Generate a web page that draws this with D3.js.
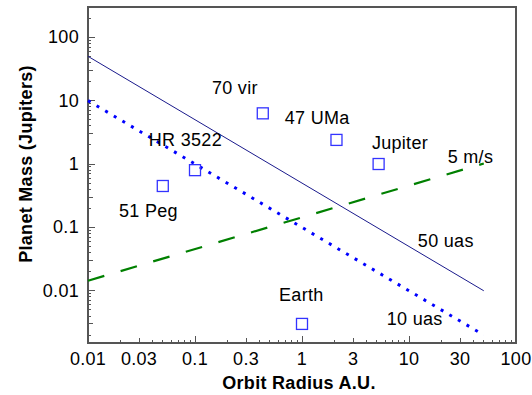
<!DOCTYPE html>
<html><head><meta charset="utf-8">
<script src="https://cdn.jsdelivr.net/npm/d3@7"></script>
<style>
body{margin:0;background:#fff;}
text{font-family:"Liberation Sans",Arial,sans-serif;}
</style></head>
<body><svg id="c" width="532" height="395"></svg>
<script>
// ---- data ----
const planetNames = ["51 Peg","HR 3522","70 vir","47 UMa","Jupiter","Earth"];
const planetRadius = [0.05, 0.1, 0.43, 2.1, 5.2, 1.0];
const planetMass   = [0.45, 0.8, 6.3, 2.4, 1.0, 0.003];

const line50uas = [[0.01, 50], [50, 0.01]];
const line10uas = [[0.01, 10], [50, 0.002]];
const line5ms   = [[0.01, 0.0144], [50, 1.02]];

const labelTexts  = ["70 vir","47 UMa","Jupiter","5 m/s","HR 3522","51 Peg","50 uas","Earth","10 uas"];
const labelRadius = [0.144, 0.69, 4.5, 23, 0.037, 0.0195, 12.1, 0.61, 6.2];
const labelMass   = [12.5, 4.3, 1.72, 1.03, 1.9, 0.146, 0.049, 0.0069, 0.0029];

const xTickValues = [0.01,0.03,0.1,0.3,1,3,10,30,100];
const xTickLabels = ["0.01","0.03","0.1","0.3","1","3","10","30","100"];
const yTickValues = [100,10,1,0.1,0.01];
const yTickLabels = ["100","10","1","0.1","0.01"];

// ---- layout ----
const svg = d3.select("#c");
const L=88, R=516, T=7, B=343;
const x = d3.scaleLog().domain([0.01,100]).range([L,R]);
const y = d3.scaleLog().domain([0.0015,300]).range([B,T]);

// minor ticks
const xMinor=[]; for(let d=-2; d<2; d++) for(let k=1;k<10;k++){xMinor.push(k*Math.pow(10,d));} xMinor.push(100);
const yMinor=[]; for(let d=-3; d<3; d++) for(let k=1;k<10;k++){const v=k*Math.pow(10,d); if(v>=0.0015&&v<=300) yMinor.push(v);}
function tickLen(v){const l=Math.log10(v), f=v/Math.pow(10,Math.floor(l+1e-9)); if(Math.abs(f-1)<1e-6) return 7; if(Math.abs(f-3)<1e-6) return 5; return 3;}

const axisCol="#555";
svg.append("g").selectAll("line").data(xMinor).join("line")
  .attr("x1",d=>x(d)).attr("x2",d=>x(d)).attr("y1",B).attr("y2",d=>B-tickLen(d))
  .attr("stroke",axisCol).attr("stroke-width",1).attr("shape-rendering","crispEdges");
svg.append("g").selectAll("line").data(yMinor).join("line")
  .attr("y1",d=>y(d)).attr("y2",d=>y(d)).attr("x1",L).attr("x2",d=>L+tickLen(d))
  .attr("stroke",axisCol).attr("stroke-width",1).attr("shape-rendering","crispEdges");

// frame
svg.append("rect").attr("x",L).attr("y",T).attr("width",R-L).attr("height",B-T)
  .attr("fill","none").attr("stroke",axisCol).attr("stroke-width",1.3).attr("shape-rendering","crispEdges");

const FS=18, LS=0.3;
// tick labels
svg.append("g").selectAll("text").data(xTickValues).join("text")
  .attr("x",d=>x(d)).attr("y",365).attr("text-anchor","middle")
  .attr("font-size",FS).attr("letter-spacing",LS).attr("fill","#000")
  .text((d,i)=>xTickLabels[i]);
svg.append("g").selectAll("text").data(yTickValues).join("text")
  .attr("x",79).attr("y",d=>y(d)+6).attr("text-anchor","end")
  .attr("font-size",FS).attr("letter-spacing",LS).attr("fill","#000")
  .text((d,i)=>yTickLabels[i]);

// axis titles
svg.append("text").attr("x",299).attr("y",389).attr("text-anchor","middle")
  .attr("font-size",18).attr("font-weight","bold").attr("letter-spacing",0.3).text("Orbit Radius A.U.");
svg.append("text").attr("transform","translate(32,164) rotate(-90)").attr("text-anchor","middle")
  .attr("font-size",18).attr("font-weight","bold").attr("letter-spacing",0.3).text("Planet Mass (Jupiters)");

// lines
const lg = d3.line().x(d=>x(d[0])).y(d=>y(d[1]));
svg.append("path").datum(line50uas).attr("d",lg).attr("fill","none")
  .attr("stroke","#1a1a8c").attr("stroke-width",1);
svg.append("path").datum(line10uas).attr("d",lg).attr("fill","none")
  .attr("stroke","#0000ff").attr("stroke-width",3).attr("stroke-dasharray","3,7");
svg.append("path").datum(line5ms).attr("d",lg).attr("fill","none")
  .attr("stroke","#008000").attr("stroke-width",2.2).attr("stroke-dasharray","17,17");

// planets
const S=11;
svg.append("g").selectAll("rect").data(planetNames).join("rect")
  .attr("x",(d,i)=>x(planetRadius[i])-S/2).attr("y",(d,i)=>y(planetMass[i])-S/2)
  .attr("width",S).attr("height",S).attr("fill","none")
  .attr("stroke","#3333ff").attr("stroke-width",1.3);

// labels
svg.append("g").selectAll("text").data(labelTexts).join("text")
  .attr("x",(d,i)=>x(labelRadius[i])).attr("y",(d,i)=>y(labelMass[i]))
  .attr("font-size",FS).attr("letter-spacing",LS).attr("fill","#000")
  .text(d=>d);
</script></body></html>
